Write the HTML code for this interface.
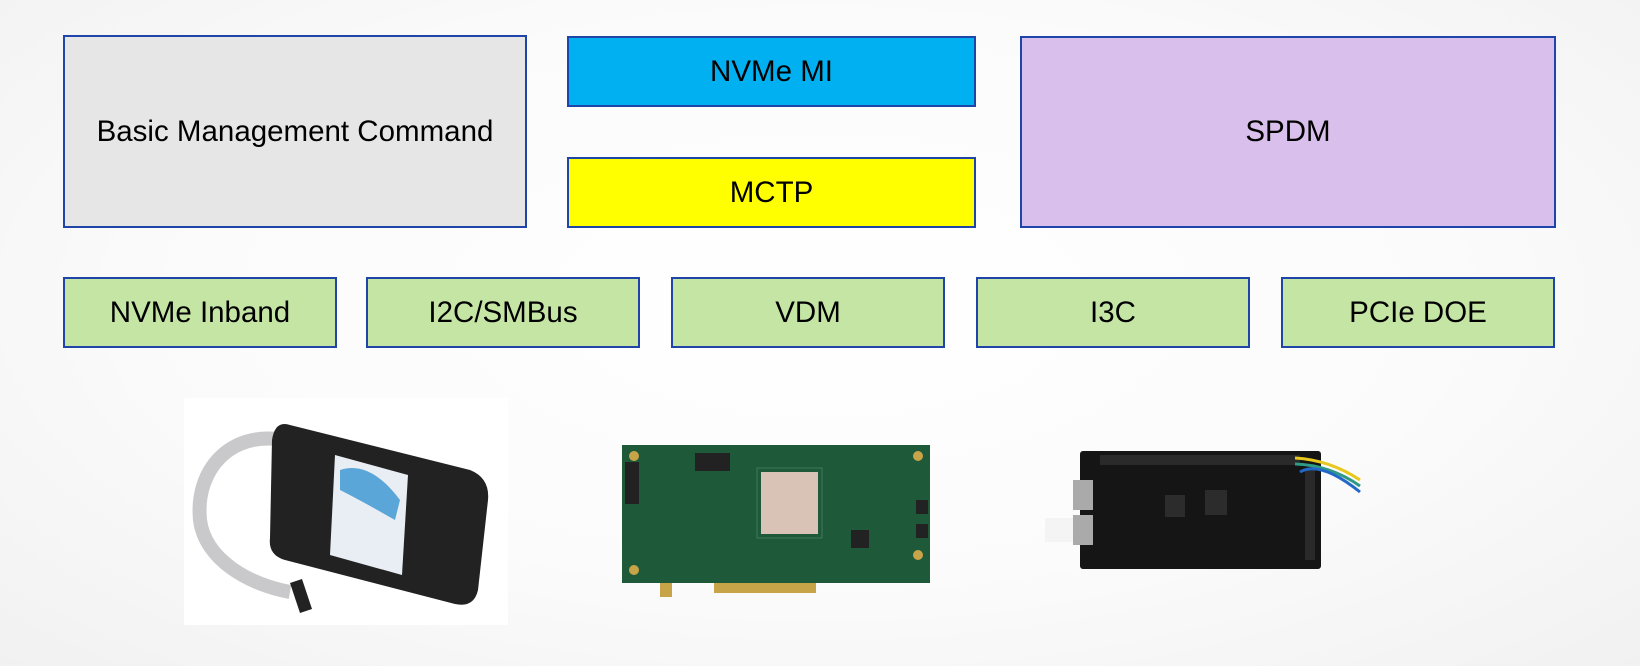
<!DOCTYPE html>
<html><head><meta charset="utf-8"><style>
html,body{margin:0;padding:0}
body{width:1640px;height:666px;position:relative;overflow:hidden;font-family:"Liberation Sans",Arial,sans-serif;
background:radial-gradient(ellipse at 50% 45%,#ffffff 0%,#fbfbfb 55%,#f1f1f1 100%)}
.b{position:absolute;box-sizing:border-box;border:2px solid #1f45a8;display:flex;align-items:center;justify-content:center;font-size:29.5px;color:#000}
.g{background:#c5e5a5;top:277px;height:71px;width:274px}
</style></head><body>
<div class="b" style="left:63px;top:35px;width:464px;height:193px;background:#e6e6e6">Basic Management Command</div>
<div class="b" style="left:567px;top:36px;width:409px;height:71px;background:#00b0f0">NVMe MI</div>
<div class="b" style="left:567px;top:157px;width:409px;height:71px;background:#ffff00">MCTP</div>
<div class="b" style="left:1020px;top:36px;width:536px;height:192px;background:#d9bfeb">SPDM</div>
<div class="b g" style="left:63px">NVMe Inband</div>
<div class="b g" style="left:366px">I2C/SMBus</div>
<div class="b g" style="left:671px">VDM</div>
<div class="b g" style="left:976px">I3C</div>
<div class="b g" style="left:1281px">PCIe DOE</div>

<svg width="1640" height="666" style="position:absolute;left:0;top:0">
<rect x="184" y="398" width="324" height="227" fill="#fff"/>
<path d="M285 440 C230 430 195 470 200 520 C205 560 250 585 290 592" stroke="#c9c9cc" stroke-width="14" fill="none"/>
<path d="M290 583 l12 -4 l10 30 l-12 4z" fill="#222"/>
<path d="M290 425 L470 470 Q490 478 488 500 L478 590 Q474 608 455 604 L285 560 Q268 555 270 538 L272 440 Q275 420 290 425z" fill="#222"/>
<path d="M335 455 L408 475 L402 575 L330 555z" fill="#e8eef4"/>
<path d="M340 470 Q370 460 400 500 L395 520 Q360 500 340 490z" fill="#5aa6d8"/>
<rect x="622" y="445" width="308" height="138" fill="#1e5a3a"/>
<path d="M660 583 h12 v14 h-12z M714 583 h102 v10 h-102z" fill="#c8a448"/>
<rect x="761" y="472" width="57" height="62" fill="#d8c3b6"/>
<rect x="757" y="468" width="65" height="70" fill="none" stroke="#3f7a5a"/>
<rect x="695" y="453" width="35" height="18" fill="#222"/>
<rect x="625" y="462" width="14" height="42" fill="#222"/>
<rect x="851" y="530" width="18" height="18" fill="#222"/>
<rect x="916" y="500" width="12" height="14" fill="#222"/><rect x="916" y="524" width="12" height="14" fill="#222"/>
<g fill="#c8a448"><circle cx="634" cy="456" r="5"/><circle cx="918" cy="456" r="5"/><circle cx="634" cy="570" r="5"/><circle cx="918" cy="555" r="5"/></g>
<rect x="1080" y="451" width="241" height="118" rx="3" fill="#151515"/>
<rect x="1045" y="518" width="35" height="24" fill="#f4f4f4"/>
<rect x="1073" y="480" width="20" height="30" fill="#aaa"/><rect x="1073" y="515" width="20" height="30" fill="#aaa"/>
<rect x="1100" y="455" width="200" height="10" fill="#2a2a2a"/>
<rect x="1305" y="470" width="10" height="90" fill="#2a2a2a"/>
<rect x="1165" y="495" width="20" height="22" fill="#2c2c2c"/><rect x="1205" y="490" width="22" height="25" fill="#2c2c2c"/>
<path d="M1295 458 Q1330 460 1360 480" stroke="#e8c81c" stroke-width="3" fill="none"/>
<path d="M1295 464 Q1330 465 1360 486" stroke="#2f9a86" stroke-width="3" fill="none"/>
<path d="M1300 472 Q1320 460 1360 492" stroke="#2368c8" stroke-width="3" fill="none"/>
</svg>
</body></html>
